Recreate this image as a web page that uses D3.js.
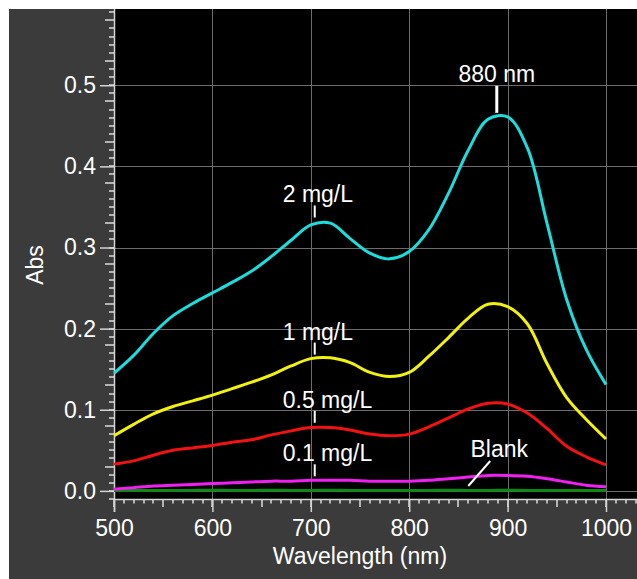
<!DOCTYPE html>
<html>
<head>
<meta charset="utf-8">
<script src="https://cdn.jsdelivr.net/npm/d3@7"></script>
<style>
body{margin:0;background:#fff;}
text{font-family:"Liberation Sans",Arial,sans-serif;}
</style>
</head>
<body>
<div id="chart"></div>
<script>
// wavelength grid (nm) and absorbance of each standard
var wavelengths = [500,520,540,560,580,600,620,640,660,680,700,720,740,760,780,800,820,840,860,880,900,920,940,960,980,1000];
var absBlank = [0.0004,0.0005,0.0006,0.0005,0.0006,0.0007,0.0006,0.0006,0.0007,0.0006,0.0006,0.0007,0.0006,0.0006,0.0005,0.0006,0.0006,0.0007,0.0006,0.0006,0.0007,0.0006,0.0006,0.0005,0.0006,0.0005];
var abs01 = [0.002,0.004,0.006,0.007,0.008,0.009,0.010,0.011,0.012,0.012,0.013,0.013,0.013,0.012,0.012,0.012,0.013,0.015,0.017,0.019,0.019,0.018,0.015,0.011,0.007,0.005];
var abs05 = [0.033,0.037,0.044,0.050,0.053,0.056,0.060,0.063,0.069,0.074,0.078,0.078,0.075,0.070,0.068,0.070,0.079,0.090,0.101,0.108,0.107,0.096,0.077,0.055,0.042,0.032];
var abs1 = [0.068,0.082,0.095,0.104,0.111,0.118,0.126,0.134,0.143,0.154,0.163,0.164,0.158,0.146,0.141,0.146,0.166,0.189,0.213,0.230,0.227,0.206,0.157,0.115,0.088,0.064];
var abs2 = [0.145,0.167,0.194,0.216,0.231,0.244,0.257,0.271,0.289,0.309,0.328,0.330,0.311,0.293,0.286,0.295,0.322,0.367,0.420,0.458,0.461,0.423,0.330,0.236,0.174,0.131];

var seriesNames = ["Blank","0.1 mg/L","0.5 mg/L","1 mg/L","2 mg/L"];
var seriesColors = ["#0e8a12","#f020f0","#f21212","#f2f20a","#1ddcdc"];

var yTickValues = [0,0.1,0.2,0.3,0.4,0.5];
var yTickLabels = ["0.0","0.1","0.2","0.3","0.4","0.5"];
var xTickValues = [500,600,700,800,900,1000];
var xTickLabels = ["500","600","700","800","900","1000"];

// annotation anchors: label, wavelength, absorbance at the foot of the marker
var annoLabels = ["880 nm","2 mg/L","1 mg/L","0.5 mg/L","0.1 mg/L"];
var annoNm = [889,704,704,704,704];
var annoAbs = [0.466,0.337,0.168,0.084,0.018];
var blankNm = 860, blankAbs = 0.006;

var W = 637, H = 579;
var svg = d3.select("#chart").append("svg").attr("width", W).attr("height", H);

svg.append("rect").attr("width", W).attr("height", H).attr("fill", "#fff");
svg.append("rect").attr("x", 9).attr("y", 9).attr("width", W-9).attr("height", H-9).attr("fill", "#3b3b3b");

var x = d3.scaleLinear().domain([500, 1031.5]).range([114, 637]);
var y = d3.scaleLinear().domain([-0.01, 0.594]).range([499, 9]);
var x0 = x(500), yBase = y(-0.01);

// plot area
svg.append("rect").attr("x", x0).attr("y", 9)
    .attr("width", W - x0).attr("height", yBase - 9).attr("fill", "#000");

// grid
var grid = svg.append("g").attr("stroke", "#6c6c6c").attr("stroke-width", 1);
grid.selectAll(".gx").data(xTickValues.slice(1)).enter().append("line")
    .attr("x1", function(d){ return Math.round(x(d))+0.5; }).attr("x2", function(d){ return Math.round(x(d))+0.5; })
    .attr("y1", 9).attr("y2", yBase);
grid.selectAll(".gy").data(yTickValues).enter().append("line")
    .attr("x1", x0).attr("x2", W)
    .attr("y1", function(d){ return Math.round(y(d))+0.5; }).attr("y2", function(d){ return Math.round(y(d))+0.5; });

var axisColor = "#d4d4d4";

// minor (0.01 / 10 nm) and medium (0.05 / 50 nm) ticks straight from the scales
var ticksG = svg.append("g").attr("stroke", axisColor).attr("stroke-width", 1.6);
var yMinor = d3.range(-1, 60).map(function(i){ return i/100; });
ticksG.selectAll(".ym").data(yMinor).enter().append("line")
    .attr("x1", function(d, i){ return x0 - ((i+1) % 5 === 0 ? 9 : 5); }).attr("x2", x0)
    .attr("y1", function(d){ return Math.round(y(d)); }).attr("y2", function(d){ return Math.round(y(d)); });
var xMinor = d3.range(500, 1040, 10);
ticksG.selectAll(".xm").data(xMinor).enter().append("line")
    .attr("x1", function(d){ return Math.round(x(d)); }).attr("x2", function(d){ return Math.round(x(d)); })
    .attr("y1", yBase).attr("y2", function(d){ return yBase + (d % 50 === 0 ? 8 : 4.5); });

function styleAxis(g){
    g.select(".domain").remove();
    g.selectAll(".tick line").attr("stroke", axisColor).attr("stroke-width", 1.5);
    g.selectAll(".tick text").attr("fill", "#fff").attr("font-size", 23)
        .attr("font-family", "'Liberation Sans', Arial, sans-serif");
}

// major ticks with labels
svg.append("g").attr("transform", "translate(" + x0 + ",0)")
    .call(d3.axisLeft(y).tickValues(yTickValues).tickSize(14).tickPadding(4)
        .tickFormat(function(d, i){ return yTickLabels[i]; }))
    .call(styleAxis);
svg.append("g").attr("transform", "translate(0," + yBase + ")")
    .call(d3.axisBottom(x).tickValues(xTickValues).tickSize(13).tickPadding(8)
        .tickFormat(function(d, i){ return xTickLabels[i]; }))
    .call(styleAxis);

// axis lines
svg.append("line").attr("x1", x0+0.5).attr("x2", x0+0.5).attr("y1", 9).attr("y2", yBase+13)
    .attr("stroke", axisColor).attr("stroke-width", 1.5);
svg.append("line").attr("x1", x0).attr("x2", W).attr("y1", yBase+0.5).attr("y2", yBase+0.5)
    .attr("stroke", axisColor).attr("stroke-width", 1.5);

// axis titles
svg.append("text").attr("x", (x0+x(1000))/2).attr("y", 564).attr("text-anchor", "middle")
    .attr("fill", "#fff").attr("font-size", 23).text("Wavelength (nm)");
svg.append("text").attr("transform", "translate(43,265) rotate(-90)").attr("text-anchor", "middle")
    .attr("fill", "#fff").attr("font-size", 23).text("Abs");

// spectra
var series = [absBlank, abs01, abs05, abs1, abs2];
var line = d3.line()
    .x(function(d, i){ return x(wavelengths[i]); })
    .y(function(d){ return y(d); })
    .curve(d3.curveCatmullRom.alpha(0.5));
svg.append("g").selectAll("path").data(series).enter().append("path")
    .attr("d", line)
    .attr("fill", "none")
    .attr("stroke", function(d, i){ return seriesColors[i]; })
    .attr("stroke-width", 3)
    .attr("stroke-linejoin", "round");

// annotations
var anno = svg.append("g");
annoLabels.forEach(function(label, i){
    var ax = x(annoNm[i]), ay = y(annoAbs[i]);
    var peak = (i === 0);
    var len = peak ? 27 : 12;
    anno.append("line").attr("x1", ax).attr("x2", ax).attr("y1", ay).attr("y2", ay - len)
        .attr("stroke", "#fff").attr("stroke-width", peak ? 3 : 2);
    anno.append("text")
        .attr("x", peak ? ax : ax - 32)
        .attr("y", ay - len - (peak ? 4 : 3))
        .attr("text-anchor", peak ? "middle" : "start")
        .attr("fill", "#fff").attr("font-size", 23)
        .text(label);
});
var bx = x(blankNm), by = y(blankAbs);
anno.append("line").attr("x1", bx).attr("y1", by).attr("x2", bx + 22).attr("y2", by - 25)
    .attr("stroke", "#fff").attr("stroke-width", 2);
anno.append("text").attr("x", bx + 31).attr("y", by - 29).attr("text-anchor", "middle")
    .attr("fill", "#fff").attr("font-size", 23).text(seriesNames[0]);
</script>
</body>
</html>
